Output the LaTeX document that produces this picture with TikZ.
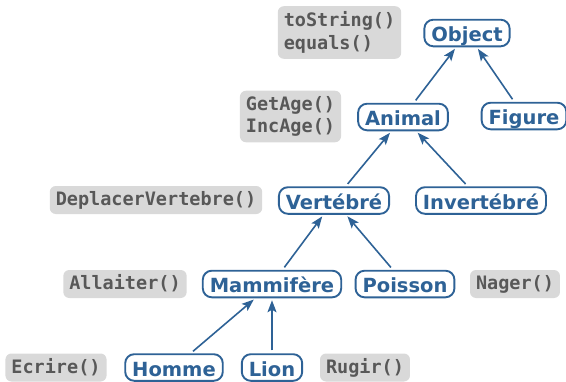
\documentclass[tikz,border=0pt]{standalone}
\usepackage{fontspec}
\setmainfont{DejaVu Sans}
\newfontfamily\monob{DejaVu Sans Mono}
\usetikzlibrary{arrows.meta}
\definecolor{clsblue}{RGB}{46,98,150}
\definecolor{methfill}{RGB}{217,217,217}
\definecolor{methtext}{RGB}{88,88,88}
\tikzset{
  cls/.style={draw=clsblue, line width=1.9pt, fill=white, rounded corners=9pt,
    text=clsblue, font=\fontsize{19.5}{22.7}\selectfont\bfseries,
    inner xsep=7pt, inner ysep=3.6pt, text height=18.4pt, text depth=1pt},
  methbase/.style={fill=methfill, rounded corners=6pt, text=methtext,
    font=\monob\fontsize{18.5}{22.7}\selectfont\bfseries,
    inner xsep=6pt, align=left},
  meth/.style={methbase, inner ysep=5pt, text height=14.5pt, text depth=3.5pt},
  meth2/.style={methbase, inner ysep=5.5pt},
  inh/.style={draw=clsblue, line width=1.6pt,
    -{Stealth[length=12pt,width=9pt,inset=2.5pt]}, shorten >=2pt, shorten <=3pt}
}
\begin{document}
\begin{tikzpicture}[x=1pt,y=-1pt]
\useasboundingbox (0,0) rectangle (566,381);
\clip (0,0) rectangle (566,381);
% classes
\node[cls] (object) at (467,33) {Object};
\node[cls] (animal) at (403,117) {Animal};
\node[cls] (figure) at (524,116) {Figure};
\node[cls] (vert) at (334,200.5) {Vertébré};
\node[cls] (invert) at (481,200.5) {Invertébré};
\node[cls] (mamm) at (272,284) {Mammifère};
\node[cls] (poisson) at (405,284) {Poisson};
\node[cls] (homme) at (174,367.5) {Homme};
\node[cls] (lion) at (272,367.5) {Lion};
% methods
\node[meth2] (mobj) at (339.5,32.5) {toString()\\equals()};
\node[meth2] (manim) at (290.5,116.5) {GetAge()\\IncAge()};
\node[meth] (mvert) at (156,200) {DeplacerVertebre()};
\node[meth] (mmamm) at (125,284) {Allaiter()};
\node[meth] (mpois) at (515,284) {Nager()};
\node[meth] (mhom) at (56,367.5) {Ecrire()};
\node[meth] (mlion) at (365,367.5) {Rugir()};
% inheritance
\draw[inh] (animal) -- (object);
\draw[inh] (figure) -- (object);
\draw[inh] (vert) -- (animal);
\draw[inh] (invert) -- (animal);
\draw[inh] (mamm) -- (vert);
\draw[inh] (poisson) -- (vert);
\draw[inh] (homme) -- (mamm);
\draw[inh] (lion) -- (mamm);
\end{tikzpicture}
\end{document}
